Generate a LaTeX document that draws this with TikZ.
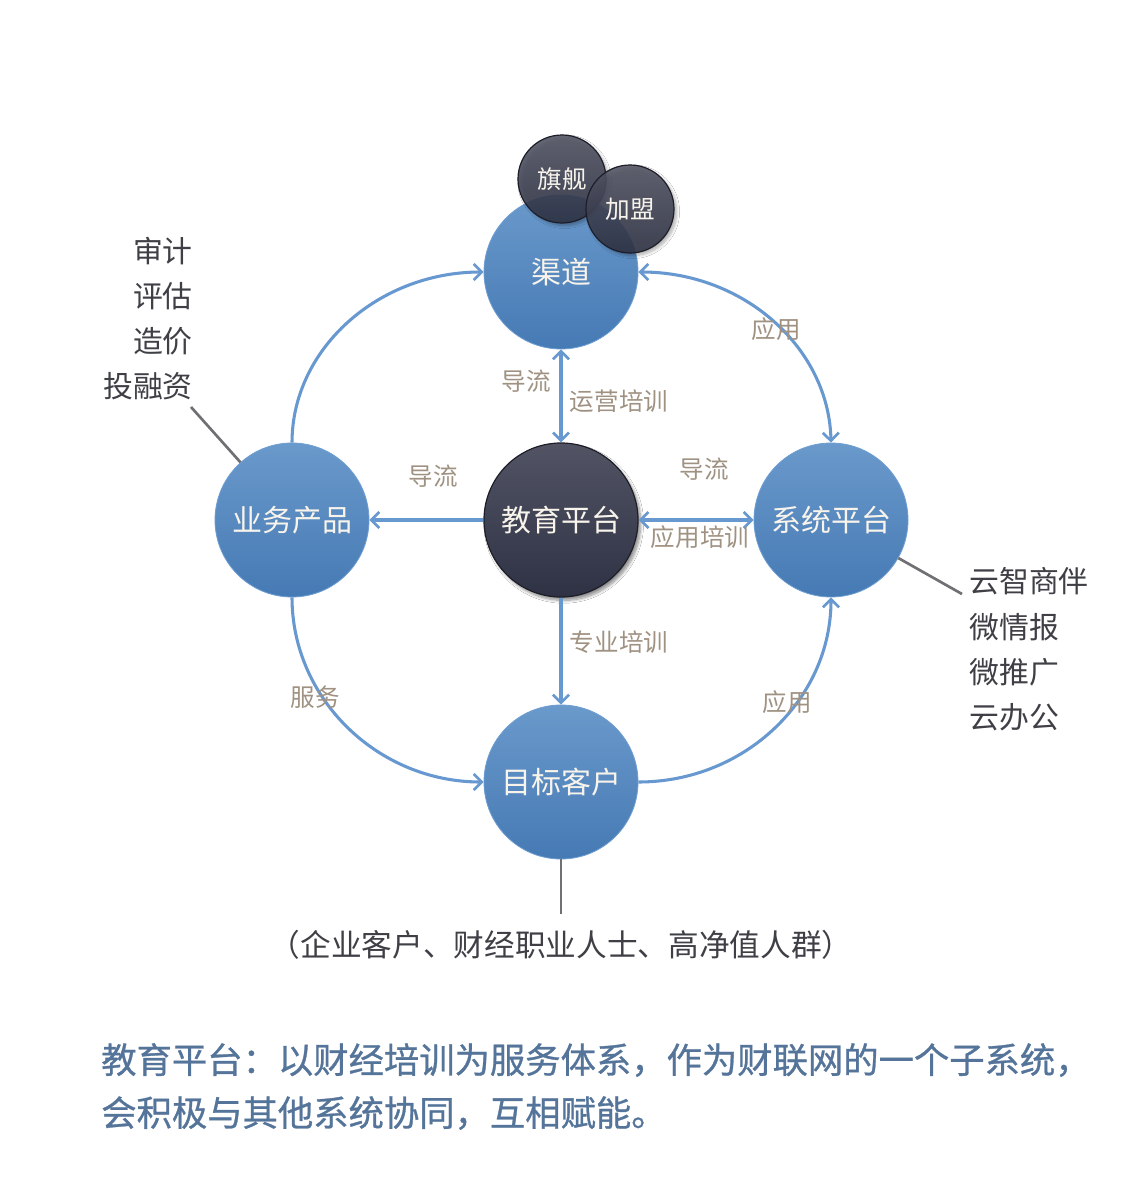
\documentclass[tikz,border=0pt]{standalone}
\usepackage{fontspec}
\setmainfont{Noto Sans CJK SC}
\newfontfamily\capfont[FakeBold=0.8]{Noto Sans CJK SC}
\usetikzlibrary{arrows.meta,shadows.blur}

\definecolor{flowc}{RGB}{104,152,208}
\definecolor{blueT}{RGB}{106,153,203}
\definecolor{blueB}{RGB}{70,122,180}
\definecolor{blueE}{RGB}{110,158,210}
\definecolor{darkT}{RGB}{82,84,100}
\definecolor{darkB}{RGB}{46,50,68}
\definecolor{darkE}{RGB}{30,30,40}
\definecolor{tagc}{RGB}{160,146,130}
\definecolor{listc}{RGB}{62,64,70}
\definecolor{linec}{RGB}{112,112,116}
\definecolor{capc}{RGB}{84,116,154}
\definecolor{wtext}{RGB}{248,244,236}

\begin{document}
\begin{tikzpicture}[x=0.75pt,y=-0.75pt,
  bluecirc/.style={circle,minimum size=115.5pt,inner sep=0pt,
    top color=blueT,bottom color=blueB,draw=blueE,line width=0.6pt,
    text=wtext,font=\fontsize{22.5}{27}\selectfont},
  darkcirc/.style={circle,minimum size=115.5pt,inner sep=0pt,
    top color=darkT,bottom color=darkB,draw=darkE,line width=0.9pt,
    text=wtext,font=\fontsize{22.5}{27}\selectfont,
    blur shadow={shadow xshift=2pt,shadow yshift=-2.5pt,shadow blur steps=8,shadow opacity=45}},
  badge/.style={circle,minimum size=66pt,inner sep=0pt,
    top color=darkT,bottom color=darkB,draw=darkE,line width=0.9pt,
    fill opacity=0.88,text opacity=1,
    text=wtext,font=\fontsize{18.5}{22}\selectfont,
    blur shadow={shadow xshift=2pt,shadow yshift=-2pt,shadow blur steps=6,shadow opacity=35}},
  flow/.style={draw=flowc,line width=2.3pt},
  onehead/.style={flow,-{Straight Barb[length=6pt,width=12pt,line width=2pt]}},
  twohead/.style={flow,{Straight Barb[length=6pt,width=12pt,line width=2pt]}-{Straight Barb[length=6pt,width=12pt,line width=2pt]}},
  tag/.style={text=tagc,font=\fontsize{18.4}{22}\selectfont,inner sep=0pt},
  listitem/.style={text=listc,font=\fontsize{22.4}{26}\selectfont,inner sep=0pt},
  gline/.style={draw=linec,line width=2pt},
  caption/.style={text=capc,font=\capfont\fontsize{26.5}{30}\selectfont,inner sep=0pt,anchor=west}]

\useasboundingbox[fill=white] (0,0) rectangle (1144,1188);

% main circles
\node[bluecirc] (chan) at (561,272) {渠道};
\node[darkcirc] (edu) at (561,520) {教育平台};
\node[bluecirc] (biz) at (292,520) {业务产品};
\node[bluecirc] (sys) at (831,520) {系统平台};
\node[bluecirc] (tgt) at (561,782) {目标客户};

% badges over the channel circle
\node[badge] (flag) at (562,179) {旗舰};
\node[badge] (join) at (630,209) {加盟};

% straight links from the platform
\draw[twohead] (chan) -- (edu);
\draw[onehead] (edu) -- (biz);
\draw[twohead] (edu) -- (sys);
\draw[onehead] (edu) -- (tgt);

% outer ring
\draw[onehead] (biz.north) .. controls (292,349) and (378,272) .. (chan.west);
\draw[twohead] (chan.east) .. controls (745,272) and (829,349) .. (sys.north);
\draw[onehead] (biz.south) .. controls (292,699) and (378,782) .. (tgt.west);
\draw[onehead] (tgt.east) .. controls (745,782) and (831,699) .. (sys.south);

% link labels
\node[tag] (t1) at (526,381) {导流};
\node[tag] (t2) at (619,401) {运营培训};
\node[tag] (t3) at (433,476) {导流};
\node[tag] (t4) at (704,469) {导流};
\node[tag] (t5) at (700,537) {应用培训};
\node[tag] (t6) at (619,642) {专业培训};
\node[tag] (t7) at (776,329) {应用};
\node[tag] (t8) at (315,697) {服务};
\node[tag] (t9) at (787,702) {应用};

% side lists
\node[listitem,anchor=east] (l1) at (193,251) {审计};
\node[listitem,anchor=east] (l2) at (193,296) {评估};
\node[listitem,anchor=east] (l3) at (193,341) {造价};
\node[listitem,anchor=east] (l4) at (193,386) {投融资};
\coordinate (lend) at (191,407);
\draw[gline] (lend) -- (biz);

\node[listitem,anchor=west] (r1) at (969,581) {云智商伴};
\node[listitem,anchor=west] (r2) at (969,627) {微情报};
\node[listitem,anchor=west] (r3) at (969,672) {微推广};
\node[listitem,anchor=west] (r4) at (969,717) {云办公};
\coordinate (rend) at (962,594);
\draw[gline] (rend) -- (sys);

\node[listitem,font=\fontsize{23}{27}\selectfont] (grp) at (561,945) {（企业客户、财经职业人士、高净值人群）};
\coordinate (bend) at (561,914);
\draw[gline] (tgt) -- (bend);

% caption
\node[caption] (c1) at (101,1060) {教育平台：以财经培训为服务体系，作为财联网的一个子系统，};
\node[caption] (c2) at (101,1113) {会积极与其他系统协同，互相赋能。};
\end{tikzpicture}
\end{document}
